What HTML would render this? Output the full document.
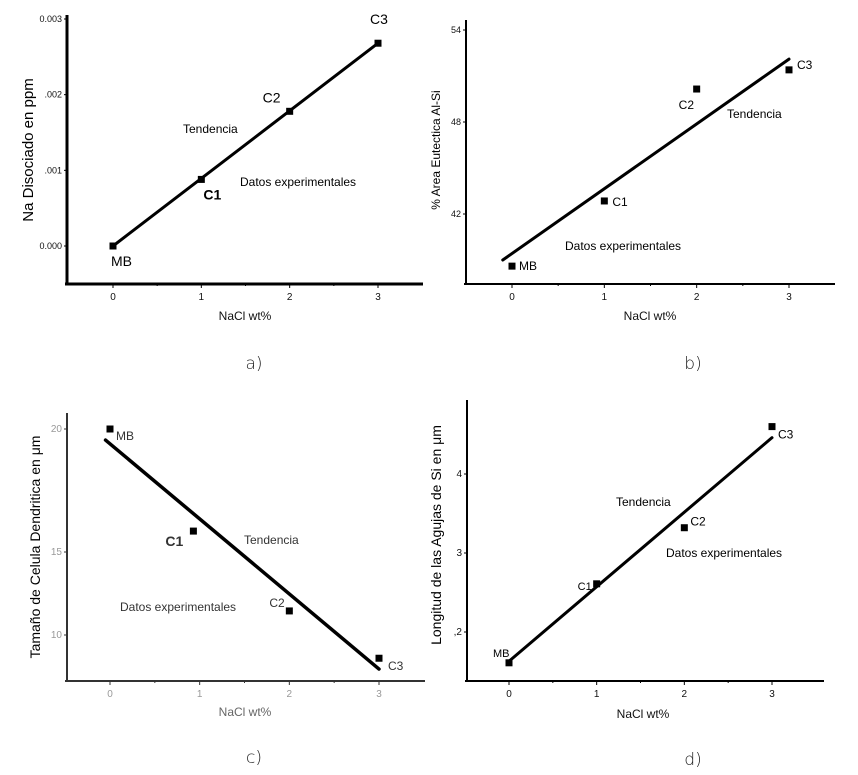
<!DOCTYPE html>
<html><head><meta charset="utf-8">
<style>
html,body{margin:0;padding:0;background:#fff;}
body{width:858px;height:775px;overflow:hidden;font-family:"Liberation Sans",sans-serif;}
svg{display:block;}
</style></head>
<body>
<svg id="fig" width="858" height="775" viewBox="0 0 858 775" xmlns="http://www.w3.org/2000/svg"></svg>
<script>
// Shared x categories (NaCl wt%)
const xValues = [0, 1, 2, 3];
const pointLabels = ["MB", "C1", "C2", "C3"];
const xTickLabels = ["0", "1", "2", "3"];

// Panel a
const aY = [0.0, 0.00088, 0.00178, 0.00268];
const aTrendX = [0, 3];
const aTrendY = [0.0, 0.00268];
const aTickVals = [0, 0.001, 0.002, 0.003];
const aTickLabels = ["0.000", ".001", ".002", "0.003"];

// Panel b
const bY = [38.6, 42.85, 50.15, 51.4];
const bTrendX = [-0.1, 3];
const bTrendY = [39.0, 52.1];
const bTickVals = [42, 48, 54];
const bTickLabels = ["42", "48", "54"];

// Panel c
const cX = [0, 0.93, 2, 3];
const cY = [20.0, 15.85, 11.45, 8.6];
const cTrendX = [-0.05, 3];
const cTrendY = [19.55, 7.95];
const cTickVals = [10, 15, 20];
const cTickLabels = ["10", "15", "20"];

// Panel d
const dY = [1.61, 2.61, 3.32, 4.6];
const dTrendX = [0, 3];
const dTrendY = [1.63, 4.46];
const dTickVals = [2, 3, 4];
const dTickLabels = [",2", "3", "4"];

const NS = "http://www.w3.org/2000/svg";
const svg = document.getElementById("fig");
function mk(tag, attrs, parent, text){
  const e = document.createElementNS(NS, tag);
  for (const k in attrs) e.setAttribute(k, attrs[k]);
  if (text !== undefined) e.textContent = text;
  (parent || svg).appendChild(e);
  return e;
}
function linScale(d0, d1, r0, r1){ return v => r0 + (v - d0) / (d1 - d0) * (r1 - r0); }
function pieceScale(dom, rng){
  return v => {
    let i = 0;
    if (v > dom[1]) i = 1;
    return rng[i] + (v - dom[i]) / (dom[i+1] - dom[i]) * (rng[i+1] - rng[i]);
  };
}

function panel(p){
  const g = mk("g", {});
  
  
  const ax = p.axisColor, aw = p.axisWidth;
  // axes
  const yl = mk("line", {x1:p.ax, y1:p.top, x2:p.ax, y2:p.bottom+1, stroke:ax, "stroke-width":aw}, g);
  
  
  const xl = mk("line", {x1:p.ax-2, y1:p.bottom, x2:p.right, y2:p.bottom, stroke:ax, "stroke-width":aw}, g);
  
  
  // x ticks
  for (let i = 0; i < xValues.length; i++){
    const x = p.sx(xValues[i]);
    mk("line", {x1:x, y1:p.bottom, x2:x, y2:p.bottom+4, stroke:ax, "stroke-width":1}, g);
    const t = mk("text", {x:x, y:p.bottom+16, "text-anchor":"middle", "font-size":10, fill:p.tickColor}, g, xTickLabels[i]);
    
    
    if (i < xValues.length - 1){
      const xm = p.sx(xValues[i] + 0.5);
      mk("line", {x1:xm, y1:p.bottom, x2:xm, y2:p.bottom+2, stroke:ax, "stroke-width":1}, g);
    }
  }
  // y ticks
  for (let i = 0; i < p.tickVals.length; i++){
    const y = p.sy(p.tickVals[i]);
    mk("line", {x1:p.ax-3, y1:y, x2:p.ax, y2:y, stroke:ax, "stroke-width":1}, g);
    const t = mk("text", {x:p.ax-5, y:y+3, "text-anchor":"end", "font-size":p.tickSize, fill:p.tickColor}, g, p.tickLabels[i]);
    
    
  }
  // trend line
  const tl = mk("line", {x1:p.sx(p.trendX[0]), y1:p.sy(p.trendY[0]), x2:p.sx(p.trendX[1]), y2:p.sy(p.trendY[1]), stroke:"#000", "stroke-width":p.lineWidth, "stroke-linecap":"round"}, g);
  
  
  // points
  for (let i = 0; i < p.ys.length; i++){
    const x = p.sx(p.xs[i]), y = p.sy(p.ys[i]);
    const r = mk("rect", {x:x-3.5, y:y-3.5, width:7, height:7, fill:"#000"}, g);
    
    
    const o = p.labelOff[i];
    const t = mk("text", {x:x+o[0], y:y+o[1], "font-size":o[2], "font-weight":o[3]||"normal", fill:p.labelColor}, g, pointLabels[i]);
    
    
  }
  // annotations
  const t1 = mk("text", {x:p.tend[0], y:p.tend[1], "font-size":12, fill:p.labelColor}, g, "Tendencia");
  
  
  const t2 = mk("text", {x:p.datos[0], y:p.datos[1], "font-size":12, fill:p.labelColor}, g, "Datos experimentales");
  
  
  // axis titles
  const xt = mk("text", {x:p.xTitle[0], y:p.xTitle[1], "text-anchor":"middle", "font-size":12, fill:p.tickColor==="#999"?"#666":"#111"}, g, "NaCl wt%");
  
  
  const yt = mk("text", {x:0, y:0, "text-anchor":"middle", "font-size":p.yTitleSize, fill:"#000", transform:`translate(${p.yTitle[0]},${p.yTitle[1]}) rotate(-90)`}, g, p.yTitleText);
  
  
  const cap = mk("text", {x:p.cap[0], y:p.cap[1], "text-anchor":"middle", "font-size":17, fill:"#222", "font-family":"DejaVu Sans, sans-serif", "font-weight":"200"}, g, p.capText);
  
  
}

panel({name:"panel-a", ax:67, top:15, bottom:284, right:423, axisColor:"#000", axisWidth:3,
  sx:linScale(0,3,113,378), sy:linScale(0,0.003,246,19),
  xs:xValues, ys:aY, trendX:aTrendX, trendY:aTrendY, lineWidth:3,
  tickVals:aTickVals, tickLabels:aTickLabels, tickSize:9, tickColor:"#111", labelColor:"#000",
  labelOff:[[-2,20,14],[2,20,14,"bold"],[-27,-9,14],[-8,-19,14]],
  tend:[183,133], datos:[240,186], xTitle:[245,320], yTitle:[33,150], yTitleSize:15,
  yTitleText:"Na Disociado en ppm", cap:[254,369], capText:"a)"});

panel({name:"panel-b", ax:466, top:20, bottom:284, right:835, axisColor:"#000", axisWidth:2,
  sx:linScale(0,3,512,789), sy:linScale(42,54,214,30),
  xs:xValues, ys:bY, trendX:bTrendX, trendY:bTrendY, lineWidth:3,
  tickVals:bTickVals, tickLabels:bTickLabels, tickSize:9, tickColor:"#111", labelColor:"#000",
  labelOff:[[7,4,12],[8,5,12],[-18,20,12],[8,-1,12]],
  tend:[727,118], datos:[565,250], xTitle:[650,320], yTitle:[440,150], yTitleSize:12,
  yTitleText:"% Area Eutectica Al-Si", cap:[693,369], capText:"b)"});

panel({name:"panel-c", ax:67, top:413, bottom:681, right:425, axisColor:"#333", axisWidth:2,
  sx:linScale(0,3,110,379), sy:pieceScale([10,15,20],[635,552,429]),
  xs:cX, ys:cY, trendX:cTrendX, trendY:cTrendY, lineWidth:3.5,
  tickVals:cTickVals, tickLabels:cTickLabels, tickSize:10, tickColor:"#999", labelColor:"#333",
  labelOff:[[6,11,12],[-28,15,14,"bold"],[-20,-4,12],[9,12,12]],
  tend:[244,544], datos:[120,611], xTitle:[245,716], yTitle:[40,547], yTitleSize:14,
  yTitleText:"Tamaño de Celula Dendritica en μm", cap:[254,763], capText:"c)"});

panel({name:"panel-d", ax:467, top:400, bottom:681, right:824, axisColor:"#000", axisWidth:2,
  sx:linScale(0,3,509,772), sy:linScale(2,4,632,474),
  xs:xValues, ys:dY, trendX:dTrendX, trendY:dTrendY, lineWidth:3,
  tickVals:dTickVals, tickLabels:dTickLabels, tickSize:10, tickColor:"#111", labelColor:"#000",
  labelOff:[[-16,-6,11],[-19,6,11],[6,-2,12],[6,12,12]],
  tend:[616,506], datos:[666,557], xTitle:[643,718], yTitle:[441,535], yTitleSize:14,
  yTitleText:"Longitud de las Agujas de Si en μm", cap:[693,765], capText:"d)"});
</script>
</body></html>
